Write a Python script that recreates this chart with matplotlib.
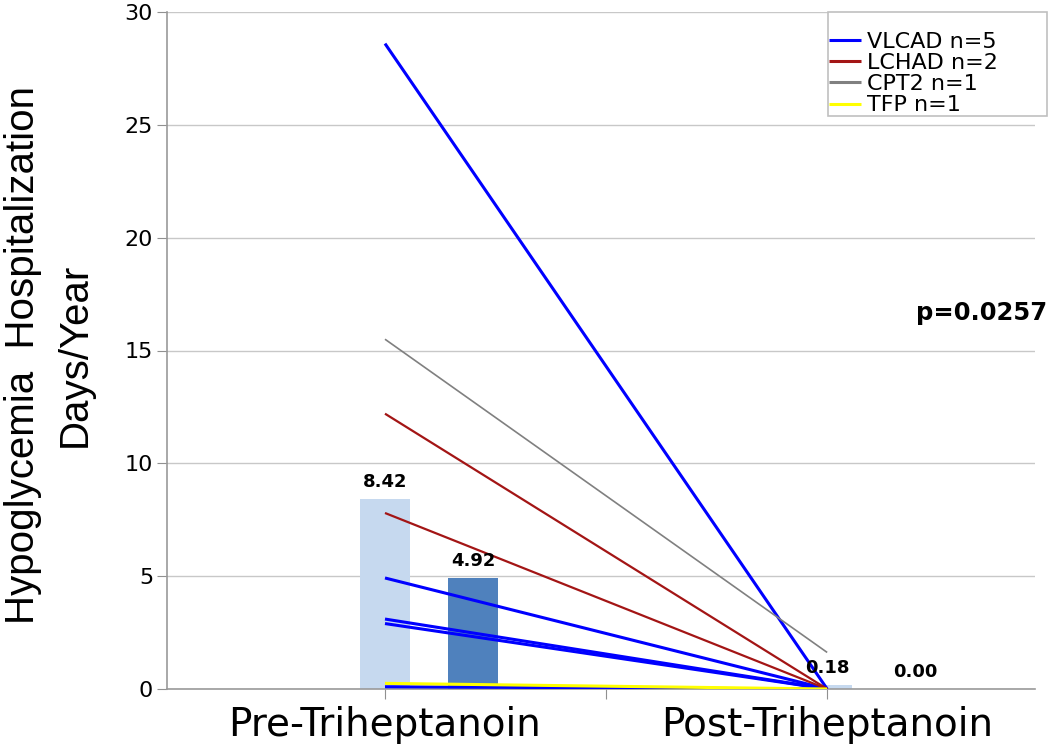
import matplotlib.pyplot as plt
from matplotlib.patches import Rectangle
import numpy as np

# data
groups = ["Pre-Triheptanoin", "Post-Triheptanoin"]
mean_vals = [8.42, 0.18]
median_vals = [4.92, 0.00]

vlcad_pre = [28.6, 4.92, 3.1, 2.9, 0.1]
vlcad_post = [0.0, 0.0, 0.0, 0.0, 0.0]
lchad_pre = [12.2, 7.8]
lchad_post = [0.0, 0.0]
cpt2_pre = [15.5]
cpt2_post = [1.62]
tfp_pre = [0.25]
tfp_post = [0.0]

legend_labels = ["VLCAD n=5", "LCHAD n=2", "CPT2 n=1", "TFP n=1"]
p_text = "p=0.0257"

W, H = 1050, 755
fig = plt.figure(figsize=(W / 100, H / 100), dpi=100)
ax = fig.add_axes([167 / W, 1 - 689 / H, 868 / W, 677 / H])

x = np.arange(len(groups))
bw = 0.113
ax.bar(x, mean_vals, width=bw, color="#c6d9ef", zorder=2)
ax.bar(x + 0.2, median_vals, width=bw, color="#4f81bd", zorder=2)
for xi, v in zip(x, mean_vals):
    ax.text(xi, v + 0.35, f"{v:.2f}", ha="center", va="bottom",
            fontsize=13, fontweight="bold", zorder=5)
for xi, v in zip(x, median_vals):
    ax.text(xi + 0.2, v + 0.35, f"{v:.2f}", ha="center", va="bottom",
            fontsize=13, fontweight="bold", zorder=5)

x_end = 1.0
def draw(pre, post, color, lw, label):
    for i, (a, b) in enumerate(zip(pre, post)):
        ax.plot([0, x_end], [a, b], color=color, lw=lw, zorder=3,
                label=label if i == 0 else None, solid_capstyle="butt")

draw(vlcad_pre, vlcad_post, "#0000ff", 2.2, legend_labels[0])
draw(lchad_pre, lchad_post, "#a31515", 1.6, legend_labels[1])
draw(cpt2_pre, cpt2_post, "#808080", 1.2, legend_labels[2])
draw(tfp_pre, tfp_post, "#ffff00", 2.2, legend_labels[3])

ax.set_xlim(-0.493, 1.47)
ax.set_ylim(0, 30)
ax.set_yticks(np.arange(0, 31, 5))
ax.yaxis.grid(True, color="#c8c8c8", lw=1.0, zorder=0)
ax.set_axisbelow(True)

ax.set_xticks([0, 0.5, 1.0])
ax.set_xticklabels([groups[0], "", groups[1]], fontsize=28)
ax.tick_params(axis="x", length=7, color="#909090", pad=5)
ax.tick_params(axis="y", length=7, color="#909090", labelsize=16, pad=3)

for s in ["top", "right"]:
    ax.spines[s].set_visible(False)
for s in ["left", "bottom"]:
    ax.spines[s].set_color("#9a9a9a")
    ax.spines[s].set_linewidth(1.2)

fig.text(49 / W, 1 - 355 / H, "Hypoglycemia  Hospitalization\nDays/Year", fontsize=29,
         family=["Liberation Sans Narrow", "Liberation Sans", "DejaVu Sans"],
         rotation=90, ha="center", va="center", multialignment="center",
         linespacing=1.45)

ax.text(1047 / W, 1 - 313 / H, p_text, transform=fig.transFigure, ha="right",
        va="center", fontsize=17.5, fontweight="bold")

# legend box drawn by hand, legend itself without frame
box = Rectangle((828 / W, 1 - 116 / H), 219 / W, 104 / H, transform=fig.transFigure,
                facecolor="white", edgecolor="#c0c0c0", lw=1.2, zorder=4, clip_on=False)
ax.add_patch(box)
leg = ax.legend(loc="upper left", bbox_to_anchor=(829 / W, 1 - 32 / H),
                bbox_transform=fig.transFigure, frameon=False,
                fontsize=16, handlelength=1.45, handletextpad=0.25,
                labelspacing=0.05, borderpad=0, borderaxespad=0)
leg.set_zorder(6)
for line in leg.get_lines():
    line.set_linewidth(2.2)

fig.savefig("out.png", dpi=100)
